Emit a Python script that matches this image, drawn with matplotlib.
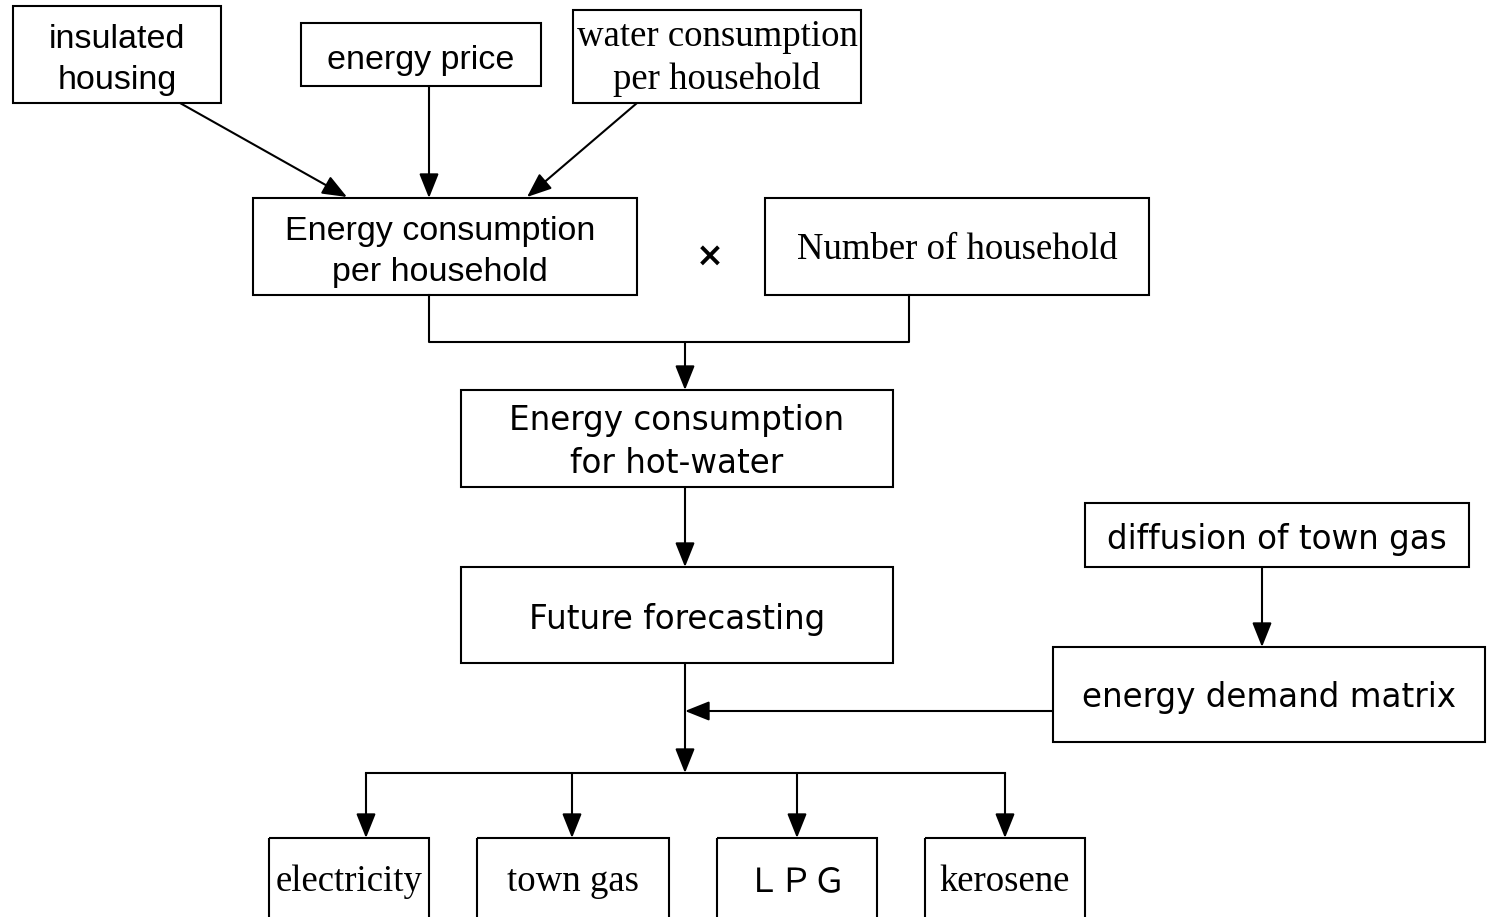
import matplotlib.pyplot as plt
from matplotlib.patches import Rectangle
from matplotlib import font_manager

# box labels
labels = ['insulated\nhousing', 'energy price', 'water consumption\nper household',
          'Energy consumption\nper household', 'Number of household',
          'Energy consumption\nfor hot-water', 'Future forecasting',
          'diffusion of town gas', 'energy demand matrix',
          'electricity', 'town gas', 'ＬＰＧ', 'kerosene']
# font style of each label: n = narrow sans, s = serif, t = sans, j = cjk
styles = ['n', 'n', 's', 'n', 's', 't', 't', 't', 't', 's', 's', 'j', 's']

# box geometry in pixels (x0, y0, x1, y1)
boxes = [(13, 6, 221, 103), (301, 23, 541, 86), (573, 10, 861, 103),
         (253, 198, 637, 295), (765, 198, 1149, 295),
         (461, 390, 893, 487), (461, 567, 893, 663),
         (1085, 503, 1469, 567), (1053, 647, 1485, 742),
         (269, 838, 429, 930), (477, 838, 669, 930),
         (717, 838, 877, 930), (925, 838, 1085, 930)]
text_pos = [(117, 60), (421, 61), (717, 58), (440, 252), (957, 250),
            (677, 442), (677, 619), (1277, 539), (1269, 697),
            (349, 882), (573, 882), (797, 882), (1005, 882)]

arrows = [((180, 103), (347, 197)), ((429, 86), (429, 198)),
          ((637, 103), (527, 197)), ((685, 342), (685, 390)),
          ((685, 487), (685, 567)), ((1262, 567), (1262, 647)),
          ((1053, 711), (685, 711)), ((685, 663), (685, 773)),
          ((366, 773), (366, 838)), ((572, 773), (572, 838)),
          ((797, 773), (797, 838)), ((1005, 773), (1005, 838))]
lines = [[(429, 295), (429, 342), (909, 342), (909, 295)],
         [(366, 773), (1005, 773)]]

names = {f.name for f in font_manager.fontManager.ttflist}
if 'Liberation Sans Narrow' in names:
    narrow = dict(family='Liberation Sans Narrow', size=29, linespacing=1.05)
else:
    narrow = dict(family='Liberation Sans', size=24.5, linespacing=1.4)
fonts = {'n': narrow,
         's': dict(family='Liberation Serif', size=26.5, linespacing=1.3),
         't': dict(family='DejaVu Sans', size=23.5, linespacing=1.4),
         'j': dict(family=['Noto Sans CJK JP', 'DejaVu Sans'], size=24)}

fig = plt.figure(figsize=(14.91, 9.17), dpi=100)
ax = fig.add_axes([0, 0, 1, 1])
ax.set_xlim(0, 1491)
ax.set_ylim(917, 0)
ax.axis('off')

for lab, st, (x0, y0, x1, y1), (tx, ty) in zip(labels, styles, boxes, text_pos):
    ax.add_patch(Rectangle((x0, y0), x1 - x0, y1 - y0, fill=False,
                           edgecolor='black', linewidth=1.5))
    ax.text(tx, ty, lab, ha='center', va='center', color='black', **fonts[st])

for pts in lines:
    ax.plot([p[0] for p in pts], [p[1] for p in pts], color='black', lw=1.5)

for start, end in arrows:
    ax.annotate('', xy=end, xytext=start,
                arrowprops=dict(arrowstyle='-|>,head_length=0.75,head_width=0.3',
                                mutation_scale=20, color='black', lw=1.5,
                                shrinkA=0, shrinkB=0))

ax.text(710, 256, '×', ha='center', va='center', fontsize=24,
        fontweight='bold', family='DejaVu Sans')

fig.savefig('out.png', dpi=100)
